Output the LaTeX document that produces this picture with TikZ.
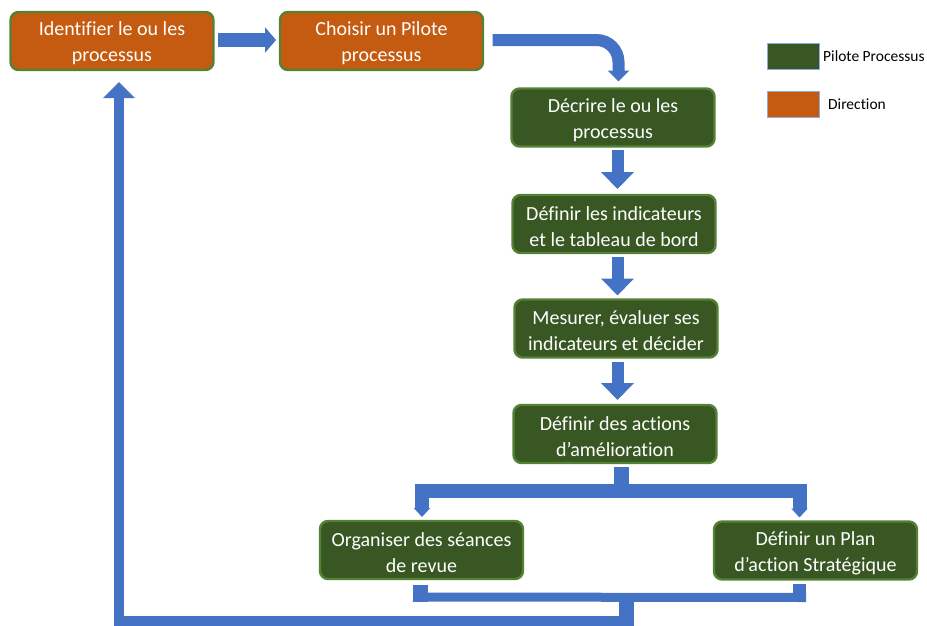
\documentclass[tikz,border=0pt]{standalone}
\usepackage{fontspec}
\setmainfont{Carlito}[RawFeature={-liga;-dlig;-clig}]
\usetikzlibrary{arrows.meta,calc}
\definecolor{dirorange}{HTML}{C55A11}
\definecolor{pilgreen}{HTML}{385723}
\definecolor{edgegreen}{HTML}{548235}
\definecolor{flowblue}{HTML}{4472C4}
\definecolor{keyedge}{HTML}{8FAADC}
% a step box (#1 style, #2 name, #3 centre) with its two-line caption #4
\newcommand\stepnode[4]{%
  \node[#1] (#2) at #3 {};
  \node[steptext] (#2-txt) at ($(#2.center)+(0,2.5)$) {#4};}
\begin{document}
\begin{tikzpicture}[x=1pt,y=-1pt,
  stepbox/.style={draw=edgegreen, line width=2.4pt, rounded corners=8pt,
    minimum width=203pt, minimum height=58pt, inner sep=0pt, outer sep=0pt},
  steptext/.style={text=white, align=center, inner sep=0pt,
    font=\fontsize{20}{26}\selectfont},
  dirbox/.style={stepbox, fill=dirorange},
  pilbox/.style={stepbox, fill=pilgreen},
  keybox/.style={draw=keyedge, line width=1pt, minimum width=52pt, minimum height=26pt,
    inner sep=0pt, outer sep=0pt},
  keytext/.style={anchor=west, inner sep=0pt, font=\fontsize{15.5}{18}\selectfont},
  flow/.style={draw=flowblue, line cap=butt, line join=miter},
  vblock/.style={flow, line width=12pt, -{Triangle[width=32pt,length=17pt]}},
]
\useasboundingbox (0,0) rectangle (927,625);

% process steps
\stepnode{dirbox}{idp}{(112,41)}{Identifier le ou les\\processus}
\stepnode{dirbox}{pil}{(381.5,41)}{Choisir un Pilote\\processus}
\stepnode{pilbox}{dec}{(613,117.5)}{Décrire le ou les\\processus}
\stepnode{pilbox}{ind}{(614,224)}{Définir les indicateurs\\et le tableau de bord}
\stepnode{pilbox}{mes}{(616,328.5)}{Mesurer, évaluer ses\\indicateurs et décider}
\stepnode{pilbox}{act}{(615,434)}{Définir des actions\\d’amélioration}
\stepnode{pilbox}{org}{(421.5,550)}{Organiser des séances\\de revue}
\stepnode{pilbox}{plan}{(815.5,550.5)}{Définir un Plan\\d’action Stratégique}

% legend
\node[keybox, fill=pilgreen]  (kpil) at (793,56)  {};
\node[keybox, fill=dirorange] (kdir) at (793,104) {};
\node[keytext] (tpil) at ($(kpil.east)+(4,0)$) {Pilote Processus};
\node[keytext] (tdir) at ($(kdir.east)+(9,0)$) {Direction};

% top row
\draw[flow, line width=14pt, -{Triangle[width=25pt,length=11pt]}]
  ($(idp.east)+(4,-1)$) -- ($(pil.west)+(-4,-1)$);
\draw[flow, line width=12pt, rounded corners=22pt, -{Triangle[width=21pt,length=11pt]}]
  ($(pil.east)+(9.5,-1)$) -| ($(dec.north)+(5.5,-7)$);

% main column
\coordinate (ax) at (617.5,0);
\draw[vblock] ($(ax |- dec.south)+(0,3)$) -- ($(ax |- ind.north)+(0,-6)$);
\draw[vblock] ($(ax |- ind.south)+(0,4)$) -- ($(ax |- mes.north)+(0,-4)$);
\draw[vblock] ($(ax |- mes.south)+(0,4)$) -- ($(ax |- act.north)+(0,-5)$);

% split towards the two follow-up steps
\coordinate (split) at ($(act.south)+(6.5,28)$);
\draw[flow, line width=15pt] ($(act.south)+(6.5,4)$) -- (split);
\draw[flow, line width=14pt, {Triangle[width=16pt,length=9pt]}-{Triangle[width=16pt,length=9pt]}]
  ($(org.north)+(0.5,-4)$) |- (split) -| ($(plan.north)+(-16,-4)$);

% merge and return to the first step
\coordinate (merge) at ($(org.south)+(205,18)$);
\draw[flow, line width=15pt] ($(org.south)+(-1,6)$) -- ($(org.south)+(-1,23)$);
\draw[flow, line width=13pt] ($(plan.south)+(-16,4.5)$) -- ($(plan.south)+(-16,22.5)$);
\draw[flow, line width=9pt] ($(org.south)+(-8.5,18)$) -- ($(plan.south)+(-9.5,18)$);
\draw[flow, line width=15pt] (merge) -- ($(merge)+(0,29)$);
\draw[flow, line width=10pt, -{Triangle[width=31pt,length=16pt]}]
  ($(merge)+(7.5,24)$) -| ($(idp.south)+(7,12)$);
\end{tikzpicture}
\end{document}
